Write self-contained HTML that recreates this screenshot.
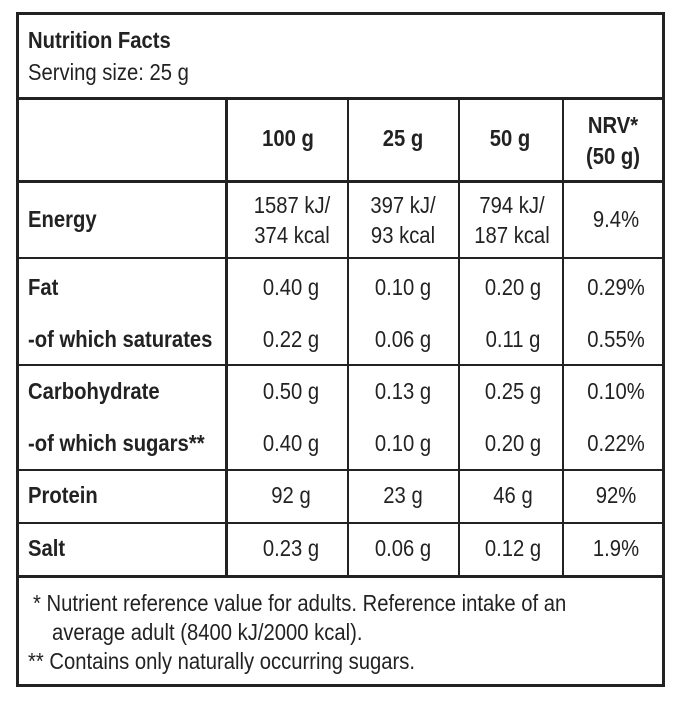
<!DOCTYPE html>
<html><head><meta charset="utf-8"><style>
html,body{margin:0;padding:0;background:#fff;}
body{width:678px;height:701px;position:relative;overflow:hidden;font-family:"Liberation Sans",sans-serif;color:#222;}
.l{position:absolute;background:#222;}
.t{position:absolute;font-size:23px;line-height:26px;white-space:nowrap;transform:scaleX(0.88);transform-origin:0 0;}
.c{transform:translateX(-50%) scaleX(0.88);transform-origin:50% 0;text-align:center;}
.b{font-weight:bold;}
</style></head><body>
<div class="l" style="left:16px;top:12px;width:649px;height:3px"></div>
<div class="l" style="left:16px;top:684px;width:649px;height:3px"></div>
<div class="l" style="left:16px;top:12px;width:3px;height:675px"></div>
<div class="l" style="left:662px;top:12px;width:3px;height:675px"></div>
<div class="l" style="left:16px;top:97px;width:649px;height:3px"></div>
<div class="l" style="left:16px;top:180px;width:649px;height:3px"></div>
<div class="l" style="left:16px;top:257px;width:649px;height:2px"></div>
<div class="l" style="left:16px;top:364px;width:649px;height:2px"></div>
<div class="l" style="left:16px;top:469px;width:649px;height:2px"></div>
<div class="l" style="left:16px;top:522px;width:649px;height:2px"></div>
<div class="l" style="left:16px;top:575px;width:649px;height:3px"></div>
<div class="l" style="left:225px;top:97px;width:3px;height:480px"></div>
<div class="l" style="left:347px;top:97px;width:2px;height:480px"></div>
<div class="l" style="left:458px;top:97px;width:2px;height:480px"></div>
<div class="l" style="left:562px;top:97px;width:2px;height:480px"></div>

<div class="t b" style="left:28px;top:27px">Nutrition Facts</div>
<div class="t" style="left:28px;top:59px">Serving size: 25 g</div>

<div class="t b c" style="left:288px;top:125px">100 g</div>
<div class="t b c" style="left:403px;top:125px">25 g</div>
<div class="t b c" style="left:510px;top:125px">50 g</div>
<div class="t b c" style="left:613px;top:110px;line-height:31px">NRV*<br>(50 g)</div>

<div class="t b" style="left:28px;top:206px">Energy</div>
<div class="t c" style="left:292px;top:190px;line-height:30px">1587 kJ/<br>374 kcal</div>
<div class="t c" style="left:403px;top:190px;line-height:30px">397 kJ/<br>93 kcal</div>
<div class="t c" style="left:512px;top:190px;line-height:30px">794 kJ/<br>187 kcal</div>
<div class="t c" style="left:616px;top:206px">9.4%</div>

<div class="t b" style="left:28px;top:274px">Fat</div>
<div class="t c" style="left:291px;top:274px">0.40 g</div>
<div class="t c" style="left:403px;top:274px">0.10 g</div>
<div class="t c" style="left:513px;top:274px">0.20 g</div>
<div class="t c" style="left:616px;top:274px">0.29%</div>

<div class="t b" style="left:28px;top:326px">-of which saturates</div>
<div class="t c" style="left:291px;top:326px">0.22 g</div>
<div class="t c" style="left:403px;top:326px">0.06 g</div>
<div class="t c" style="left:513px;top:326px">0.11 g</div>
<div class="t c" style="left:616px;top:326px">0.55%</div>

<div class="t b" style="left:28px;top:378px">Carbohydrate</div>
<div class="t c" style="left:291px;top:378px">0.50 g</div>
<div class="t c" style="left:403px;top:378px">0.13 g</div>
<div class="t c" style="left:513px;top:378px">0.25 g</div>
<div class="t c" style="left:616px;top:378px">0.10%</div>

<div class="t b" style="left:28px;top:430px">-of which sugars**</div>
<div class="t c" style="left:291px;top:430px">0.40 g</div>
<div class="t c" style="left:403px;top:430px">0.10 g</div>
<div class="t c" style="left:513px;top:430px">0.20 g</div>
<div class="t c" style="left:616px;top:430px">0.22%</div>

<div class="t b" style="left:28px;top:482px">Protein</div>
<div class="t c" style="left:291px;top:482px">92 g</div>
<div class="t c" style="left:403px;top:482px">23 g</div>
<div class="t c" style="left:513px;top:482px">46 g</div>
<div class="t c" style="left:616px;top:482px">92%</div>

<div class="t b" style="left:28px;top:535px">Salt</div>
<div class="t c" style="left:291px;top:535px">0.23 g</div>
<div class="t c" style="left:403px;top:535px">0.06 g</div>
<div class="t c" style="left:513px;top:535px">0.12 g</div>
<div class="t c" style="left:616px;top:535px">1.9%</div>

<div class="t" style="left:33px;top:590px">* Nutrient reference value for adults. Reference intake of an</div>
<div class="t" style="left:52px;top:619px">average adult (8400 kJ/2000 kcal).</div>
<div class="t" style="left:28px;top:648px">** Contains only naturally occurring sugars.</div>
</body></html>
